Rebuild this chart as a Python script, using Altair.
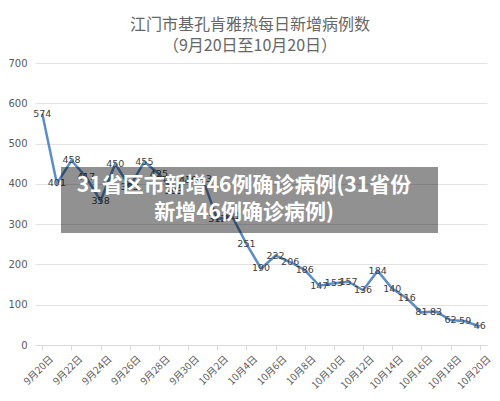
import altair as alt
import pandas as pd

dates = ["9月20日", "9月21日", "9月22日", "9月23日", "9月24日", "9月25日", "9月26日",
         "9月27日", "9月28日", "9月29日", "9月30日", "10月1日", "10月2日", "10月3日",
         "10月4日", "10月5日", "10月6日", "10月7日", "10月8日", "10月9日", "10月10日",
         "10月11日", "10月12日", "10月13日", "10月14日", "10月15日", "10月16日",
         "10月17日", "10月18日", "10月19日", "10月20日"]
cases = [574, 401, 458, 417, 358, 450, 393, 455, 425, 383, 410, 413, 312, 321,
         251, 190, 222, 206, 186, 147, 153, 157, 136, 184, 140, 116, 81, 83, 62, 59, 46]
tick_dates = dates[::2]
y_ticks = [0, 100, 200, 300, 400, 500, 600, 700]
title_lines = ["江门市基孔肯雅热每日新增病例数", "（9月20日至10月20日）"]
overlay_lines = ["31省区市新增46例确诊病例(31省份", "新增46例确诊病例)"]

df = pd.DataFrame({"date": dates, "cases": cases})
one = pd.DataFrame({"k": [0]})

FONT = "Noto Sans CJK SC"

x = alt.X("date:O", sort=dates,
          scale=alt.Scale(paddingInner=0, paddingOuter=0),
          axis=alt.Axis(values=tick_dates, title=None, labelAngle=-45,
                        labelAlign="right", labelBaseline="middle",
                        bandPosition=0, labelOffset=9, labelPadding=7,
                        tickSize=5, tickColor="#d9d9d9", domainColor="#d9d9d9",
                        labelColor="#595959", labelFontSize=10, labelFont=FONT,
                        grid=False))
y = alt.Y("cases:Q", scale=alt.Scale(domain=[0, 700], nice=False),
          axis=alt.Axis(values=y_ticks, title=None, ticks=False, domain=False,
                        gridColor="#e3e3e3", labelColor="#595959", labelFontSize=10,
                        labelFont="DejaVu Sans", labelPadding=8))

line = alt.Chart(df).mark_line(color="#5b8dc8", strokeWidth=2.5).encode(x=x, y=y)
labels = alt.Chart(df).mark_text(fontSize=9.5, color="#404040", font="DejaVu Sans").encode(
    x=alt.X("date:O", sort=dates), y="cases:Q", text="cases:Q")

band = alt.Chart(one).mark_rect(color="black", opacity=0.43).encode(
    x=alt.value(26), x2=alt.value(403), y=alt.value(104), y2=alt.value(170))
over_text = alt.Chart(one).mark_text(
    font=FONT, fontSize=21, fontWeight="bold", color="white",
    lineHeight=27, baseline="middle", align="center").encode(
    x=alt.value(209), y=alt.value(123), text=alt.value(overlay_lines))

chart = alt.layer(line, labels, band, over_text).properties(
    width=452, height=282,
    autosize=alt.AutoSizeParams(type="none"),
    padding={"left": 27, "top": 55, "right": 5, "bottom": 48},
    title=alt.TitleParams(text=title_lines, fontSize=16, fontWeight="normal",
                          color="#666666", font=FONT, lineHeight=21,
                          anchor="middle", dx=-11, offset=4),
).configure_view(stroke=None)

chart.save("out.html", embed_options={"renderer": "svg", "actions": False})
